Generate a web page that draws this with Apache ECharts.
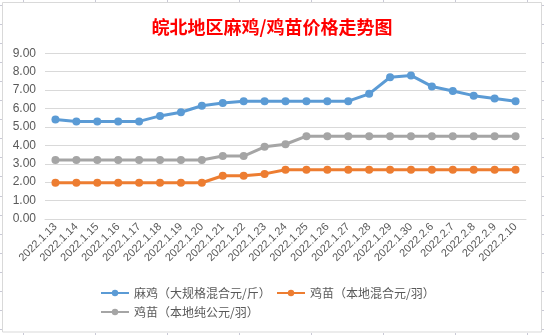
<!DOCTYPE html>
<html>
<head>
<meta charset="utf-8">
<script src="https://cdn.jsdelivr.net/npm/echarts@6/dist/echarts.min.js"></script>
<style>
html,body{margin:0;padding:0;background:#fff;}
#c{width:544px;height:335px;}
</style>
</head>
<body>
<div id="c"></div>
<script>
var categories = ['2022.1.13','2022.1.14','2022.1.15','2022.1.16','2022.1.17','2022.1.18','2022.1.19','2022.1.20','2022.1.21','2022.1.22','2022.1.23','2022.1.24','2022.1.25','2022.1.26','2022.1.27','2022.1.28','2022.1.29','2022.1.30','2022.2.6','2022.2.7','2022.2.8','2022.2.9','2022.2.10'];
var majiPrice = [5.4,5.3,5.3,5.3,5.3,5.6,5.8,6.15,6.3,6.4,6.4,6.4,6.4,6.4,6.4,6.8,7.7,7.8,7.2,6.95,6.7,6.55,6.4];
var chickMixed = [1.97,1.97,1.97,1.97,1.97,1.97,1.97,1.97,2.35,2.35,2.45,2.67,2.67,2.67,2.67,2.67,2.67,2.67,2.67,2.67,2.67,2.67,2.67];
var chickMale = [3.2,3.2,3.2,3.2,3.2,3.2,3.2,3.2,3.42,3.42,3.92,4.06,4.5,4.5,4.5,4.5,4.5,4.5,4.5,4.5,4.5,4.5,4.5];
var seriesNames = ['麻鸡（大规格混合元/斤）','鸡苗（本地混合元/羽）','鸡苗（本地纯公元/羽）'];
var yTicks = [0,1,2,3,4,5,6,7,8,9];

var colors = ['#5B9BD5','#ED7D31','#A5A5A5'];
var font = '"Noto Sans CJK SC", "Noto Sans", sans-serif';

var graphics = [];
graphics.push({type:'rect', shape:{x:2.5,y:2.5,width:539,height:329.5}, style:{fill:'#fff',stroke:'#D9D9D9',lineWidth:1}, z:-10});
for (var k=0;k<=17;k++){
  var y = Math.round(5.3 + 19.02*k)+0.5;
  graphics.push({type:'line', shape:{x1:0,y1:y,x2:2,y2:y}, style:{stroke:'#C9C9D6',lineWidth:1}, z:-11});
  graphics.push({type:'line', shape:{x1:542,y1:y,x2:544,y2:y}, style:{stroke:'#C9C9D6',lineWidth:1}, z:-11});
}
for (var j=0;j<=7;j++){
  var x = 23 + 72*j + 0.5;
  graphics.push({type:'line', shape:{x1:x,y1:0,x2:x,y2:2}, style:{stroke:'#C9C9D6',lineWidth:1}, z:-11});
  graphics.push({type:'line', shape:{x1:x,y1:333,x2:x,y2:335}, style:{stroke:'#C9C9D6',lineWidth:1}, z:-11});
}

function mkSeries(name, data, color){
  return {
    name:name, type:'line', data:data, symbol:'circle', symbolSize:8,
    lineStyle:{width:3,color:color}, itemStyle:{color:color}, animation:false
  };
}

var legendText = {color:'#595959', fontSize:12, fontFamily:font};
var chart = echarts.init(document.getElementById('c'));
chart.setOption({
  animation:false,
  color:colors,
  title:{
    text:'皖北地区麻鸡/鸡苗价格走势图', left:'center', top:13,
    textStyle:{color:'#FF0000', fontSize:18, fontWeight:'bold', fontFamily:font}
  },
  graphic:graphics,
  legend:[
    {data:[seriesNames[0]], left:100, top:287, itemWidth:28, itemHeight:8, itemGap:0, padding:[0,0,0,0], textStyle:legendText},
    {data:[seriesNames[1]], left:276, top:287, itemWidth:28, itemHeight:8, itemGap:0, padding:[0,0,0,0], textStyle:legendText},
    {data:[seriesNames[2]], left:100, top:306, itemWidth:28, itemHeight:8, itemGap:0, padding:[0,0,0,0], textStyle:legendText}
  ],
  grid:{left:45, right:18, top:53.3, height:165.7, containLabel:false},
  xAxis:{
    type:'category', data:categories, boundaryGap:true,
    axisTick:{show:false},
    axisLine:{lineStyle:{color:'#D9D9D9'}},
    axisLabel:{rotate:45, interval:0, color:'#595959', fontSize:11, margin:6, fontFamily:'"Liberation Sans", sans-serif'}
  },
  yAxis:{
    type:'value', min:yTicks[0], max:yTicks[yTicks.length-1], interval:1,
    axisLine:{show:false}, axisTick:{show:false},
    splitLine:{lineStyle:{color:'#D9D9D9'}},
    axisLabel:{color:'#595959', fontSize:12, margin:9, fontFamily:'"Liberation Sans", sans-serif',
      formatter:function(v){return v.toFixed(2);}}
  },
  series:[
    mkSeries(seriesNames[0], majiPrice, colors[0]),
    mkSeries(seriesNames[1], chickMixed, colors[1]),
    mkSeries(seriesNames[2], chickMale, colors[2])
  ]
});
</script>
</body>
</html>
